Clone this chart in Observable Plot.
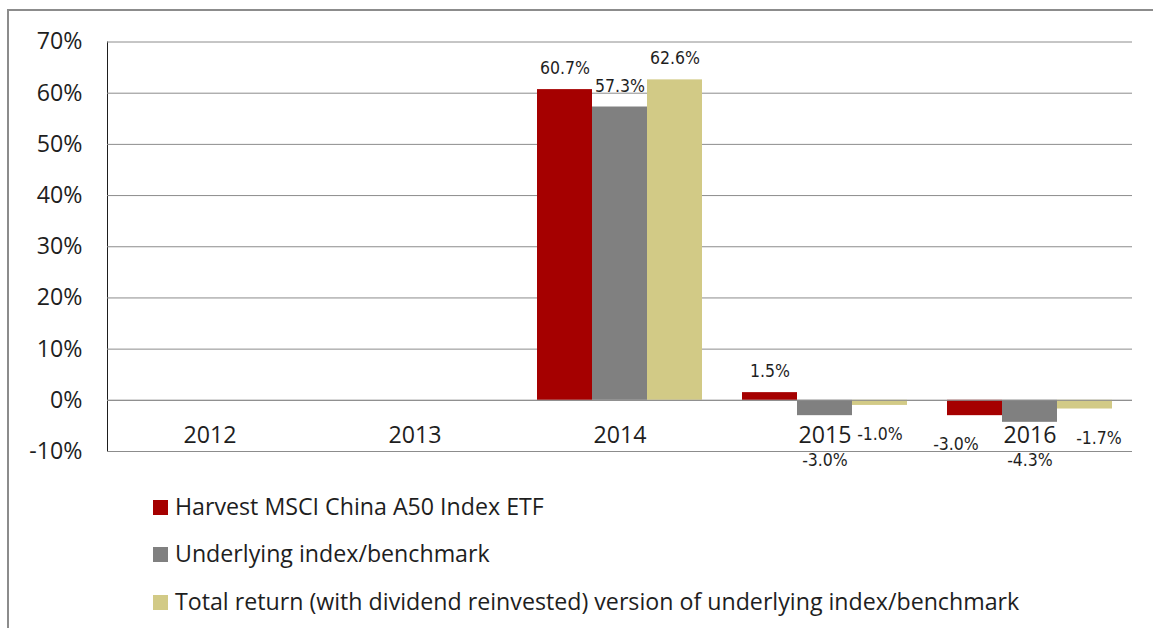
<!DOCTYPE html>
<html><head><meta charset="utf-8">
<script src="https://cdn.jsdelivr.net/npm/d3@7"></script>
<script src="https://cdn.jsdelivr.net/npm/@observablehq/plot@0.6"></script>
<style>
body{margin:0;background:#fff;width:1153px;height:628px;overflow:hidden;position:relative;font-family:"Open Sans",sans-serif;color:#1e1e1e;}
#frame{position:absolute;left:7px;top:9px;width:1160px;height:700px;border:2px solid #8c8c8c;box-sizing:border-box;}
#chart{position:absolute;left:0;top:0;}
#legend{position:absolute;left:153px;top:0;}
.item{position:absolute;left:0;white-space:nowrap;font-size:23.2px;line-height:24px;}
.sw{display:inline-block;width:15px;height:15px;margin-right:7px;vertical-align:middle;position:relative;top:-1px;}
</style></head><body>
<div id="frame"></div>
<div id="chart"></div>
<div id="legend"></div>
<script>
const years = ["2012", "2013", "2014", "2015", "2016"];
const seriesNames = [
  "Harvest MSCI China A50 Index ETF",
  "Underlying index/benchmark",
  "Total return (with dividend reinvested) version of underlying index/benchmark"
];
const etfReturns   = [null, null, 60.7,  1.5, -3.0];
const indexReturns = [null, null, 57.3, -3.0, -4.3];
const totalReturns = [null, null, 62.6, -1.0, -1.7];
const seriesColors = ["#a50000", "#808080", "#d2ca86"];
const yTicks = [-10, 0, 10, 20, 30, 40, 50, 60, 70];

// label nudges (layout only), as in the original where labels were moved off the 2016 category label
const labelNudge = {"2016|0": -19, "2016|2": 14};

const allSeries = [etfReturns, indexReturns, totalReturns];
const data = years.flatMap((yr, i) => allSeries.map((arr, k) => ({year: yr, series: seriesNames[k], value: arr[i], k})))
  .filter(d => d.value != null);
const fmt = d => d.value.toFixed(1) + "%";
const posLabels = data.filter(d => d.value >= 0);
const negSideLabels = data.filter(d => d.value < 0 && d.k !== 1);
const negMidLabels = data.filter(d => d.value < 0 && d.k === 1);

const labelStyle = {fontFamily: "DejaVu Sans Condensed, DejaVu Sans", fontSize: 17.5, fill: "#1e1e1e", lineAnchor: "middle"};

const marks = [
  Plot.ruleY(yTicks, {stroke: "#8c8c8c", strokeWidth: 1}),
  Plot.barY(data, {fx: "year", x: "series", y: "value", fill: "series"}),
  Plot.ruleY([0], {stroke: "#8c8c8c", strokeWidth: 1}),
  Plot.text(years, {fx: d => d, y: 0, text: d => d, dy: 35, fontSize: 23.2, lineAnchor: "middle"}),
  Plot.text(posLabels, {fx: "year", x: "series", y: "value", text: fmt, dy: -21, ...labelStyle}),
  Plot.text(negMidLabels, {fx: "year", x: "series", y: -10, text: fmt, dy: 9, ...labelStyle})
];
// side labels for negative values, each with its own horizontal nudge
negSideLabels.forEach(d => {
  marks.push(Plot.text([d], {fx: "year", x: "series", y: "value", text: fmt, dy: 29, dx: labelNudge[d.year + "|" + d.k] || 0, ...labelStyle}));
});

const chart = Plot.plot({
  width: 1153, height: 491,
  marginLeft: 105, marginRight: 19, marginTop: 41.5, marginBottom: 40,
  style: {fontFamily: "Open Sans", fontSize: "23.2px", color: "#1e1e1e", background: "transparent"},
  fx: {domain: years, padding: 0, axis: null},
  x: {domain: seriesNames, paddingInner: 0, paddingOuter: 0.36, axis: null},
  y: {domain: [-10, 70], ticks: yTicks, tickFormat: d => d + "%", tickSize: 0, tickPadding: 25, label: null, line: true},
  color: {domain: seriesNames, range: seriesColors},
  marks
});
document.getElementById("chart").appendChild(chart);

const legend = document.getElementById("legend");
const rowCenters = [506, 553, 601];
seriesNames.forEach((name, k) => {
  const el = document.createElement("div");
  el.className = "item";
  el.style.top = (rowCenters[k] - 12) + "px";
  el.innerHTML = `<span class="sw" style="background:${seriesColors[k]}"></span>${name}`;
  legend.appendChild(el);
});
</script>
</body></html>
